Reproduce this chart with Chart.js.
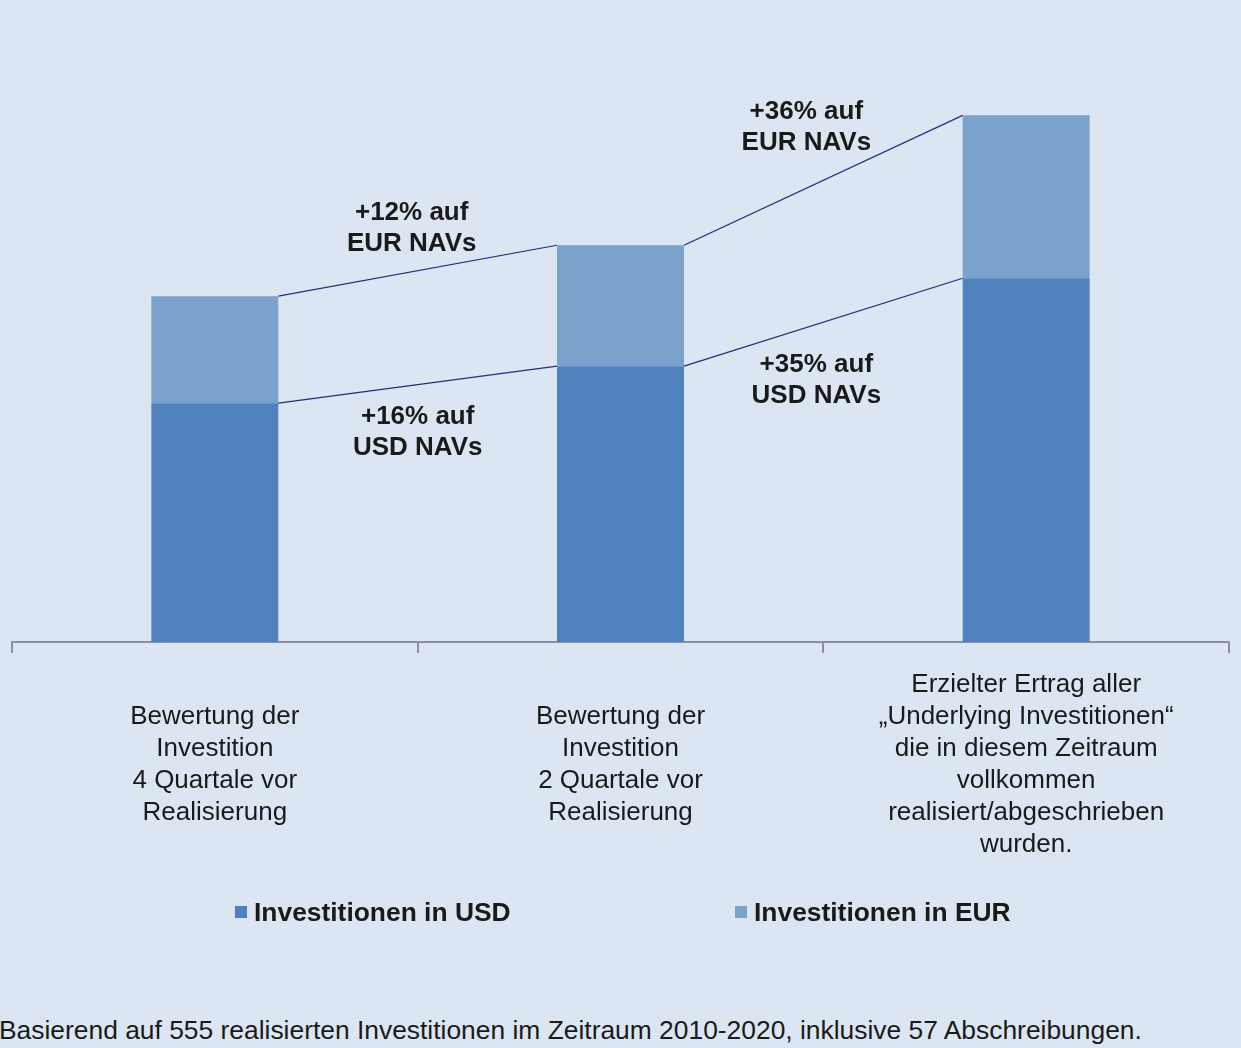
<!DOCTYPE html>
<html lang="de">
    <head>
        <meta charset="UTF-8">
        <meta name="viewport" content="width=device-width, initial-scale=1">
        <style>
            html, body { margin: 0; padding: 0; background: #dce6f2; }
            body { width: 1241px; height: 1048px; position: relative; overflow: hidden;
                   font-family: "Liberation Sans", Arial, sans-serif; color: #1a1a1a; }
            #wrap { position: absolute; left: 0; top: 0; width: 1241px; height: 909px; }
            .legend-item { position: absolute; top: 897px; font-weight: bold; font-size: 26.4px;
                           line-height: 30px; white-space: nowrap; }
            .legend-item span.box { display: inline-block; width: 12px; height: 12px;
                                    margin-right: 7px; vertical-align: 3px; }
            #note { position: absolute; left: -1px; top: 1015px; font-size: 26.4px; line-height: 30px;
                    white-space: nowrap; }
        </style>
        <script src="https://cdn.jsdelivr.net/npm/chart.js"></script>
    </head>
    <body>
        <div id="wrap"><canvas id="chart"></canvas></div>
        <div class="legend-item" id="leg0" style="left:235px"></div>
        <div class="legend-item" id="leg1" style="left:735px"></div>
        <div id="note">Basierend auf 555 realisierten Investitionen im Zeitraum 2010-2020, inklusive 57 Abschreibungen.</div>

        <script type="text/javascript" charset="utf-8">
            // Kategorien (mehrzeilig)
            let categories = [
                ['Bewertung der', 'Investition', '4 Quartale vor', 'Realisierung'],
                ['Bewertung der', 'Investition', '2 Quartale vor', 'Realisierung'],
                ['Erzielter Ertrag aller', '\u201eUnderlying Investitionen\u201c', 'die in diesem Zeitraum', 'vollkommen', 'realisiert/abgeschrieben', 'wurden.']
            ];
            // Werte (indexiert, Balken 1 USD = 100)
            let usdValues = [100, 115.5, 152.3];
            let eurValues = [44.8, 50.6, 68.2];
            let seriesNames = ['Investitionen in USD', 'Investitionen in EUR'];
            let seriesColors = ['#4f81bd', '#7ba1cd'];

            // Beschriftungen der Verbindungslinien: [von Balken, Serie, Text, dx, dy]
            let notes = [
                [0, 1, ['+12% auf', 'EUR NAVs'], -6, -42],
                [0, 0, ['+16% auf', 'USD NAVs'], 0, 48],
                [1, 1, ['+36% auf', 'EUR NAVs'], -17, -53],
                [1, 0, ['+35% auf', 'USD NAVs'], -7, 58]
            ];

            const FONT = '"Liberation Sans", Arial, sans-serif';

            const connectors = {
                id: 'connectors',
                afterDatasetsDraw(chart) {
                    const ctx = chart.ctx;
                    const metas = [chart.getDatasetMeta(0), chart.getDatasetMeta(1)];
                    ctx.save();
                    ctx.strokeStyle = '#1f2f7a';
                    ctx.lineWidth = 1.2;
                    let mids = {};
                    metas.forEach((meta, s) => {
                        for (let i = 0; i < meta.data.length - 1; i++) {
                            const a = meta.data[i], b = meta.data[i + 1];
                            const x1 = a.x + a.width / 2, x2 = b.x - b.width / 2;
                            ctx.beginPath();
                            ctx.moveTo(x1, a.y);
                            ctx.lineTo(x2, b.y);
                            ctx.stroke();
                            mids[i + '_' + s] = [(x1 + x2) / 2, (a.y + b.y) / 2];
                        }
                    });
                    ctx.fillStyle = '#1a1a1a';
                    ctx.font = 'bold 26px ' + FONT;
                    ctx.textAlign = 'center';
                    ctx.textBaseline = 'middle';
                    notes.forEach(n => {
                        const m = mids[n[0] + '_' + n[1]];
                        const cx = m[0] + n[3], cy = m[1] + n[4];
                        const lh = 31;
                        n[2].forEach((line, k) => {
                            ctx.fillText(line, cx, cy + (k - (n[2].length - 1) / 2) * lh);
                        });
                    });
                    ctx.restore();
                }
            };

            const data = {
                labels: categories,
                datasets: [
                    { label: seriesNames[0], data: usdValues, backgroundColor: seriesColors[0] },
                    { label: seriesNames[1], data: eurValues, backgroundColor: seriesColors[1] }
                ]
            };

            const config = {
                type: 'bar',
                data: data,
                options: {
                    responsive: true,
                    maintainAspectRatio: false,
                    animation: false,
                    layout: { padding: { left: 12, right: 12, top: 21, bottom: 0 } },
                    datasets: { bar: { categoryPercentage: 1, barPercentage: 0.313 } },
                    plugins: { legend: { display: false }, tooltip: { enabled: false } },
                    scales: {
                        x: {
                            stacked: true,
                            grid: { drawOnChartArea: false, tickLength: 11, color: '#8c8fa6', lineWidth: 2, offset: true },
                            border: { color: '#8c8fa6', width: 2 },
                            ticks: {
                                color: '#1a1a1a',
                                padding: 32,
                                crossAlign: 'center',
                                maxRotation: 0,
                                autoSkip: false,
                                font: { family: FONT, size: 26, lineHeight: '32px' }
                            }
                        },
                        y: { stacked: true, display: false, min: 0, max: 260 }
                    }
                },
                plugins: [connectors]
            };

            let chart = new Chart(document.getElementById('chart'), config);

            // Legende
            [0, 1].forEach(i => {
                const el = document.getElementById('leg' + i);
                el.innerHTML = '<span class="box" style="background:' + seriesColors[i] + '"></span>' + seriesNames[i];
            });
        </script>
    </body>
</html>
